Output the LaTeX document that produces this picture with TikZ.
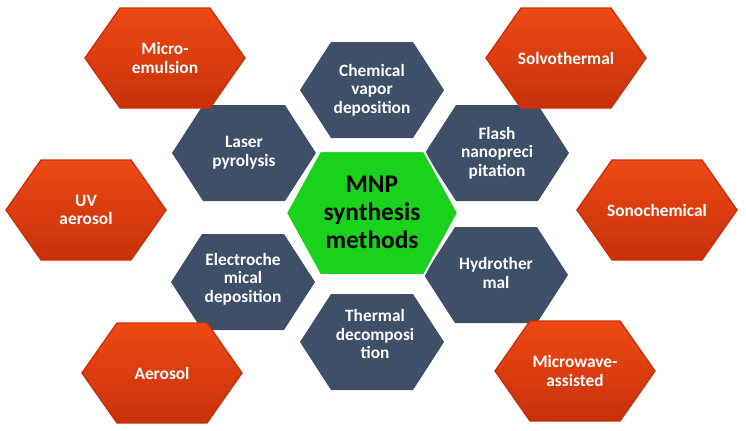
\documentclass[tikz,border=0pt]{standalone}
\usepackage{fontspec}
\setmainfont{Carlito}
\usetikzlibrary{calc}
\definecolor{slate}{HTML}{3D5068}
\definecolor{hexred}{HTML}{EE4A14}
\definecolor{hexredd}{HTML}{C8300A}
\definecolor{hexgreen}{HTML}{19D21C}
\tikzset{
  lbl/.style={align=center,font=\bfseries\fontsize{13}{14}\selectfont,text=white},
  slatehex/.style={fill=slate},
  redhex/.style={top color=hexred,bottom color=hexredd,draw=hexredd,line width=1pt},
  greenhex/.style={fill=hexgreen,draw=white,line width=1.5pt}
}
% hexagon: centre, half width, half height, slant, style
\newcommand\hexa[5]{%
  \path[#5] ($(#1)+(-#2,0)$) -- ++(#4,-#3) -- ++({2*(#2-#4)},0) -- ++(#4,#3)
    -- ++(-#4,#3) -- ++({-2*(#2-#4)},0) -- cycle;}
\begin{document}
\begin{tikzpicture}[x=0.75pt,y=-0.75pt]
\useasboundingbox (0,0) rectangle (746,430);
% inner ring
\hexa{372,90}{72}{48}{31}{slatehex}
\hexa{244,153}{72}{48}{31}{slatehex}
\hexa{497,153}{72}{48}{31}{slatehex}
\hexa{243,282}{72}{48}{31}{slatehex}
\hexa{496,275}{72}{48}{31}{slatehex}
\hexa{372,342}{72}{48}{31}{slatehex}
\hexa{372,213}{86}{62}{34}{greenhex}
% outer ring
\hexa{165,58}{80}{50}{35}{redhex}
\hexa{566,58}{80}{50}{35}{redhex}
\hexa{86,210}{80}{50}{35}{redhex}
\hexa{657,210}{80}{50}{35}{redhex}
\hexa{162,373}{80}{50}{35}{redhex}
\hexa{575,371}{80}{50}{35}{redhex}
% labels
\node[lbl] (cvd) at (372,90) {Chemical\\vapor\\deposition};
\node[lbl] (laser) at (244,153) {Laser\\pyrolysis};
\node[lbl] (flash) at (497,153) {Flash\\nanopreci\\pitation};
\node[lbl] (electro) at (243,279) {Electroche\\mical\\deposition};
\node[lbl] (hydro) at (496,273) {Hydrother\\mal};
\node[lbl] (thermal) at (375,334) {Thermal\\decomposi\\tion};
\node[lbl,text=black,font=\bfseries\fontsize{19}{21}\selectfont] (mnp) at (372,212) {MNP\\synthesis\\methods};
\node[lbl] (micro) at (165,58) {Micro-\\emulsion};
\node[lbl] (solvo) at (566,58) {Solvothermal};
\node[lbl] (uv) at (86,210) {UV\\aerosol};
\node[lbl] (sono) at (657,210) {Sonochemical};
\node[lbl] (aero) at (162,373) {Aerosol};
\node[lbl] (mw) at (575,371) {Microwave-\\assisted};
\end{tikzpicture}
\end{document}
